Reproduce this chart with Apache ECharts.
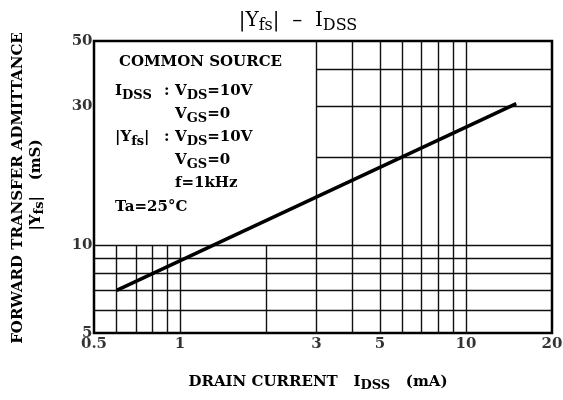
<!DOCTYPE html>
<html>
  <head>
    <meta charset="utf-8" />
    <title>Yfs - IDSS</title>
    <script src="https://cdn.jsdelivr.net/npm/echarts@6.0.0/dist/echarts.min.js"></script>
    <style>
      html, body { margin: 0; padding: 0; background: #fff; }
      #chart { width: 563px; height: 400px; }
    </style>
  </head>
  <body>
    <div id="chart"></div>
    <script type="text/javascript">
      // curve |Yfs| vs IDSS (mA, mS)
      const curveX = [0.6, 15];
      const curveY = [7.0, 30.5];

      // tick labels
      const xTicks = [0.5, 1, 3, 5, 10, 20];
      const yTicks = [5, 10, 30, 50];

      // grid lines (the upper left part is left empty for the note box)
      const fullVLines = [3, 4, 5, 6, 7, 8, 9, 10];
      const lowVLines = [0.6, 0.7, 0.8, 0.9, 1, 2];
      const fullHLines = [6, 7, 8, 9, 10];
      const rightHLines = [20, 30, 40];

      const X_MIN = 0.5, X_MAX = 20, Y_MIN = 5, Y_MAX = 50;
      const SERIF = '"DejaVu Serif", "Liberation Serif", serif';

      const gridMarks = [];
      fullVLines.forEach(v => gridMarks.push({ xAxis: v }));
      lowVLines.forEach(v => gridMarks.push([{ coord: [v, Y_MIN] }, { coord: [v, 10] }]));
      fullHLines.forEach(v => gridMarks.push({ yAxis: v }));
      rightHLines.forEach(v => gridMarks.push([{ coord: [3, v] }, { coord: [X_MAX, v] }]));

      const curveData = curveX.map((x, i) => [x, curveY[i]]);

      const nrm = { fontFamily: SERIF, fontSize: 15, fontWeight: 'bold', fill: '#000' };
      const sub = { fontFamily: SERIF, fontSize: 13, fontWeight: 'bold', fill: '#000', padding: [9, 0, 0, 0] };

      function note(x, y, text) {
        return {
          type: 'text', x: x, y: y, z: 100,
          style: { text: text, verticalAlign: 'middle', align: 'left', rich: { n: nrm, s: sub }, fill: '#000' }
        };
      }

      const chart = echarts.init(document.getElementById('chart'), null, { renderer: 'canvas' });
      chart.setOption({
        animation: false,
        backgroundColor: '#fff',
        grid: { left: 94, right: 11, top: 41, bottom: 67, show: true, borderColor: '#000', borderWidth: 2.5, backgroundColor: 'transparent' },
        xAxis: {
          type: 'log', logBase: 10, min: X_MIN, max: X_MAX,
          axisLine: { show: false }, axisTick: { show: false },
          axisLabel: { show: false }, splitLine: { show: false }, minorSplitLine: { show: false }
        },
        yAxis: {
          type: 'log', logBase: 10, min: Y_MIN, max: Y_MAX,
          axisLine: { show: false }, axisTick: { show: false },
          axisLabel: { show: false }, splitLine: { show: false }, minorSplitLine: { show: false }
        },
        graphic: [
          {
            type: 'text', x: 298, y: 21,
            style: {
              text: '{n||Y}{s|fs}{n||  –  I}{s|DSS}', align: 'center', verticalAlign: 'middle',
              rich: {
                n: { fontFamily: SERIF, fontSize: 20, fill: '#000' },
                s: { fontFamily: SERIF, fontSize: 16, fill: '#000', padding: [10, 0, 0, 0] }
              }
            }
          },
          {
            type: 'text', x: 18, y: 188, rotation: Math.PI / 2,
            style: { text: 'FORWARD TRANSFER ADMITTANCE', align: 'center', verticalAlign: 'middle', fontFamily: SERIF, fontSize: 15, fontWeight: 'bold', fill: '#000' }
          },
          {
            type: 'text', x: 36, y: 185, rotation: Math.PI / 2,
            style: {
              text: '{n||Y}{s|fs}{n||   (mS)}', align: 'center', verticalAlign: 'middle',
              rich: {
                n: { fontFamily: SERIF, fontSize: 15, fontWeight: 'bold', fill: '#000' },
                s: { fontFamily: SERIF, fontSize: 13, fontWeight: 'bold', fill: '#000', padding: [8, 0, 0, 0] }
              }
            }
          },
          {
            type: 'text', x: 318, y: 382,
            style: {
              text: '{n|DRAIN CURRENT   I}{s|DSS}{n|   (mA)}', align: 'center', verticalAlign: 'middle',
              rich: {
                n: { fontFamily: SERIF, fontSize: 15, fontWeight: 'bold', fill: '#000' },
                s: { fontFamily: SERIF, fontSize: 13, fontWeight: 'bold', fill: '#000', padding: [8, 0, 0, 0] }
              }
            }
          },
          note(119, 62, '{n|COMMON SOURCE}'),
          note(115, 91, '{n|I}{s|DSS}'),
          note(164, 91, '{n|:}'),
          note(175, 91, '{n|V}{s|DS}{n|=10V}'),
          note(175, 114, '{n|V}{s|GS}{n|=0}'),
          note(115, 137, '{n||Y}{s|fs}{n||}'),
          note(164, 137, '{n|:}'),
          note(175, 137, '{n|V}{s|DS}{n|=10V}'),
          note(175, 160, '{n|V}{s|GS}{n|=0}'),
          note(175, 183, '{n|f=1kHz}'),
          note(115, 207, '{n|Ta=25°C}')
        ],
        series: [
          {
            name: 'grid',
            type: 'line',
            data: curveData,
            showSymbol: false,
            silent: true,
            lineStyle: { opacity: 0 },
            z: 1,
            markLine: {
              silent: true,
              symbol: 'none',
              animation: false,
              label: { show: false },
              lineStyle: { color: '#111', width: 1.4, type: 'solid' },
              data: gridMarks
            }
          },
          {
            name: 'curve',
            type: 'line',
            data: curveData,
            showSymbol: false,
            z: 5,
            lineStyle: { color: '#000', width: 3.5 }
          },
          {
            name: 'xlabels',
            type: 'scatter',
            clip: false,
            silent: true,
            symbolSize: 1,
            itemStyle: { color: 'transparent' },
            data: xTicks.map(v => [v, Y_MIN]),
            label: {
              show: true, position: 'bottom', distance: 3,
              fontFamily: SERIF, fontSize: 15, fontWeight: 'bold', color: '#000',
              formatter: p => String(p.value[0])
            }
          },
          {
            name: 'ylabels',
            type: 'scatter',
            clip: false,
            silent: true,
            symbolSize: 1,
            itemStyle: { color: 'transparent' },
            data: yTicks.map(v => [X_MIN, v]),
            label: {
              show: true, position: 'left', distance: 1,
              fontFamily: SERIF, fontSize: 15, fontWeight: 'bold', color: '#000',
              formatter: p => String(p.value[1])
            }
          }
        ]
      });
    </script>
  </body>
</html>
